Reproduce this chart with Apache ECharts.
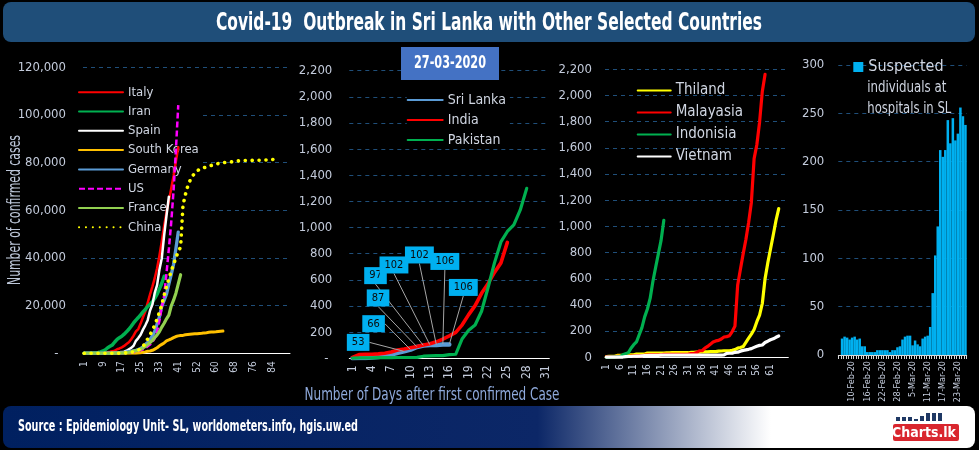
<!DOCTYPE html>
<html><head><meta charset="utf-8">
<script src="https://cdn.jsdelivr.net/npm/echarts@6/dist/echarts.min.js"></script>
<style>html,body{margin:0;padding:0;background:#000;}#c{width:979px;height:450px;}</style>
</head><body><div id="c"></div>
<script>
// ---------- DATA ----------
const days1 = [1,2,3,4,5,6,7,8,9,10,11,12,13,14,15,16,17,18,19,20,21,22,23,24,25,26,27,28,29,30,31,32,33,34,35,36,37,38,39,40,41,45,46,47,48,49,50,51,52,53,54,55,56,57,58,59,60,61,62,63,64,65,66,67,68,69,70,71,72,73,74,75,76,77,78,79,80,81,82,83,84,85,86,87,88,89,90,91];
const italy = [3,3,3,3,3,20,79,157,229,323,470,655,889,1128,1694,2036,2502,3089,3858,4636,5883,7375,9172,10149,12462,15113,17660,21157,24747,27980,31506,35713,41035,47021,53578,59138,63927,69176,74386,80589,86498];
const iran = [28,43,61,95,139,245,388,593,978,1501,2336,2922,3513,4747,5823,6566,7161,8042,9000,10075,11364,12729,13938,14991,16169,17361,18407,19644,20610,21638,23049,24811,27017,29406,32332];
const spain = [2,2,2,2,3,7,13,15,32,45,84,120,165,222,259,400,500,673,1073,1695,2277,3146,5232,6391,7798,9942,11748,13910,17963,20410,25374,28603,35136,39885,49515,57786,65719];
const southKorea = [4,4,4,11,12,15,15,16,19,23,24,24,25,27,28,28,28,28,28,29,30,31,51,104,204,433,602,833,977,1261,1766,2337,3150,3736,4335,5186,5621,6088,6593,7041,7314,7478,7513,7755,7869,7979,8086,8162,8236,8320,8413,8565,8652,8799,8897,8961,9037,9137,9241,9332];
const germany = [16,16,16,16,16,16,16,16,16,18,18,26,48,79,130,159,196,262,482,670,795,1040,1224,1565,1966,2745,3675,4585,5813,7272,9257,12327,15320,19848,22213,24873,29056,32986,37323,43938,50871];
const us = [15,15,15,15,15,15,35,35,53,53,57,60,60,68,75,100,124,158,221,319,435,541,704,994,1301,1697,2247,2943,3680,4663,6411,9197,13779,19367,24192,33592,43781,54856,68211,85435,104126];
const france = [12,12,12,12,12,12,12,12,12,12,14,18,38,57,100,130,191,212,285,423,653,949,1126,1412,1784,2281,2876,3661,4499,5423,6633,7730,9134,10995,12612,14459,16018,19856,22304,25233,29155,32964];
const china = [27,27,41,41,41,41,41,41,41,41,41,41,41,41,41,45,62,121,198,291,440,571,830,1287,1975,2744,4515,5974,7711,9692,11791,14380,17205,20438,24324,28018,31161,34546,37198,40171,42638,44653,62000,66500,70000,72500,74300,75500,76500,77200,77600,77900,78200,78500,78800,79100,79400,79600,79800,79950,80100,80200,80261,80380,80497,80667,80768,80814,80859,80879,80921,80932,80945,80977,81003,81033,81058,81102,81156,81250,81305,81435];

const days2 = [1,2,3,4,5,6,7,8,9,10,11,12,13,14,15,16,17,18,19,20,21,22,23,24,25,26,27,28,29,30,31];
const sriLanka = [1,2,3,6,10,18,28,42,53,66,87,97,102,102,106,106];
const india = [6,28,30,31,34,39,48,63,71,81,91,102,112,126,146,171,198,256,334,403,497,571,657,730,887];
const pakistan = [2,4,4,4,5,5,5,6,6,6,7,16,19,20,21,28,31,150,215,255,360,540,730,890,970,1020,1135,1300];
const slLabelIdx = [8,9,10,11,12,13,14,15];

const days3 = [1,2,3,4,5,6,7,8,9,10,11,12,13,14,15,16,17,18,19,20,21,22,23,24,25,26,27,28,29,30,31,32,33,34,35,36,37,38,39,40,41,42,43,44,45,46,47,48,49,50,51,52,53,54,55,56,57,58,59,60,61,62,63,64,65,66,67];
const thailand = [5,7,8,8,14,14,14,19,19,19,19,25,25,25,25,32,32,32,33,33,33,33,34,34,35,35,35,35,35,35,35,37,37,40,40,41,42,42,43,43,43,47,48,50,50,50,53,59,70,75,82,114,147,177,212,272,322,411,599,721,827,934,1045,1136];
const malaysia = [3,4,4,4,7,8,8,8,8,10,10,12,12,12,16,16,18,18,18,18,19,22,22,22,22,22,22,22,22,22,25,29,29,36,50,50,70,83,99,117,125,129,140,155,158,165,197,238,553,673,790,900,1030,1183,1518,1624,1796,2031,2161];
const indonesia = [0,0,2,2,4,6,19,27,34,69,96,117,172,227,309,369,450,579,686,790,893,1046];
const vietnam = [2,2,2,2,2,2,2,5,6,6,8,9,10,12,13,13,14,14,15,15,16,16,16,16,16,16,16,16,16,16,16,16,16,16,16,16,16,16,16,16,16,16,17,18,30,31,31,38,39,47,53,57,61,66,76,85,91,94,113,123,134,141,153,163];

const dates4 = ['5-Feb-20','6-Feb-20','7-Feb-20','8-Feb-20','9-Feb-20','10-Feb-20','11-Feb-20','12-Feb-20','13-Feb-20','14-Feb-20','15-Feb-20','16-Feb-20','17-Feb-20','18-Feb-20','19-Feb-20','20-Feb-20','21-Feb-20','22-Feb-20','23-Feb-20','24-Feb-20','25-Feb-20','26-Feb-20','27-Feb-20','28-Feb-20','29-Feb-20','1-Mar-20','2-Mar-20','3-Mar-20','4-Mar-20','5-Mar-20','6-Mar-20','7-Mar-20','8-Mar-20','9-Mar-20','10-Mar-20','11-Mar-20','12-Mar-20','13-Mar-20','14-Mar-20','15-Mar-20','16-Mar-20','17-Mar-20','18-Mar-20','19-Mar-20','20-Mar-20','21-Mar-20','22-Mar-20','23-Mar-20','24-Mar-20','25-Mar-20','26-Mar-20'];
const suspected = [null,17,19,18,16,18,19,16,17,9,9,3,3,3,3,5,5,5,5,5,3,5,5,8,9,16,19,20,20,10,15,11,9,17,19,20,29,64,103,133,212,205,212,243,219,245,222,229,256,247,238];

// ---------- STYLE ----------
const FONT = '"Liberation Sans Narrow","DejaVu Sans Condensed","Arial Narrow",sans-serif';
const LABEL = '#c3cbdb';
const GRIDC = '#1f4e79';
const mctx = document.createElement('canvas').getContext('2d');
function fit(text, font, w) { mctx.font = font; return w / mctx.measureText(text).width; }
const fmtComma = (pad) => (v) => v === 0 ? '-' + pad : v.toLocaleString('en-US');

function yAx(gi, max, interval, fmt, margin, fs) {
  return {gridIndex: gi, type: 'value', min: 0, max, interval,
    axisLine: {show: false}, axisTick: {show: false},
    splitLine: {show: true, lineStyle: {color: GRIDC, type: [4, 4], width: 1}},
    axisLabel: {color: LABEL, fontSize: fs, fontFamily: FONT, margin, formatter: fmt}};
}
function xAx(gi, data, interval, fs, margin, lineColor) {
  return {gridIndex: gi, type: 'category', data, boundaryGap: true,
    axisLine: {show: true, lineStyle: {color: lineColor || '#ffffff', width: 1}},
    axisTick: {show: false},
    axisLabel: {rotate: 90, interval, color: LABEL, fontSize: fs, fontFamily: FONT, margin},
    splitLine: {show: false}};
}
function ln(name, gi, data, color, width, type, extra) {
  return Object.assign({type: 'line', name, xAxisIndex: gi, yAxisIndex: gi, data, symbol: 'none',
    color, lineStyle: {color, width, type: type || 'solid', cap: 'round', join: 'round'}, animation: false}, extra || {});
}

const slDx = [-46, -37, -39, -48, -36, -17, 2, 14];
const slDy = [-9, -26, -49, -70, -80, -90, -83, -57];

const titleText = 'Covid-19  Outbreak in Sri Lanka with Other Selected Countries';
const titleFont = 'bold 25px ' + FONT;
const srcText = 'Source : Epidemiology Unit- SL, worldometers.info, hgis.uw.ed';
const srcFont = 'bold 15px ' + FONT;
const yTitle = 'Number of confirmed cases';
const yTitleFont = '17px ' + FONT;
const xTitle = 'Number of Days after first confirmed Case';
const xTitleFont = '17px ' + FONT;
const dateText = '27-03-2020';
const dateFont = 'bold 17px ' + FONT;
const legFont4 = '16px ' + FONT;
const leg4Line2 = 'individuals at';
const leg4Line3 = 'hospitals in SL';

const legendText = {color: '#d0d6e2', fontFamily: FONT};
const lineLegendCommon = {orient: 'vertical', selectedMode: false, z: 1, itemStyle: {opacity: 0}};

const option = {
  backgroundColor: '#000',
  animation: false,
  textStyle: {fontFamily: FONT},
  grid: [
    {left: 83, top: 67.3, width: 207, height: 286},
    {left: 349.3, top: 70.7, width: 200, height: 287.6},
    {left: 605, top: 69.3, width: 183.3, height: 288},
    {left: 838.3, top: 65, width: 128.4, height: 290}
  ],
  xAxis: [
    xAx(0, days1, 7, 10, 8),
    xAx(1, days2, 2, 12, 7),
    xAx(2, days3, function (i) { return i % 5 === 0 && i < 65; }, 10, 7),
    Object.assign(xAx(3, dates4, function (i) { return i % 6 === 5; }, 9, 6, '#d9d9d9'),
      {axisTick: {show: true, interval: 0, length: 4, lineStyle: {color: '#d9d9d9'}}})
  ],
  yAxis: [
    yAx(0, 120000, 20000, fmtComma('  '), 17, 13),
    yAx(1, 2200, 200, fmtComma(' '), 17, 13),
    yAx(2, 2200, 200, null, 13, 13),
    yAx(3, 300, 50, null, 14, 13)
  ],
  legend: [
    Object.assign({data: ['Italy', 'Iran', 'Spain', 'South Korea', 'Germany', 'US', 'France', 'China'],
      left: 78, top: 83.7, itemWidth: 44, itemHeight: 14, itemGap: 6.3, padding: [2, 4, 2, 0], backgroundColor: '#000',
      textStyle: Object.assign({fontSize: 13}, legendText)}, lineLegendCommon),
    Object.assign({data: ['Sri Lanka', 'India', 'Pakistan'],
      left: 406.7, top: 91, itemWidth: 35, itemHeight: 14, itemGap: 6, padding: [2, 4, 2, 0], backgroundColor: '#000',
      textStyle: Object.assign({fontSize: 14}, legendText)}, lineLegendCommon),
    Object.assign({data: ['Thiland', 'Malayasia', 'Indonisia', 'Vietnam'],
      left: 636.7, top: 83, itemWidth: 33, itemHeight: 14, itemGap: 7, padding: 0,
      textStyle: Object.assign({fontSize: 15}, legendText)}, lineLegendCommon),
    {data: ['Suspected individuals at hospitals in SL'], orient: 'vertical', icon: 'rect',
      left: 853.3, top: 59, itemWidth: 10, itemHeight: 10, padding: 0,
      formatter: function () { return 'Suspected'; },
      textStyle: Object.assign({fontSize: 16}, legendText), selectedMode: false}
  ],
  series: [
    ln('Italy', 0, italy, '#ff0000', 2.5),
    ln('Iran', 0, iran, '#00b050', 3.5),
    ln('Spain', 0, spain, '#ffffff', 2.5),
    ln('South Korea', 0, southKorea, '#ffc000', 3),
    ln('Germany', 0, germany, '#5b9bd5', 3.3),
    ln('US', 0, us, '#ff00ff', 2.5, [6, 3], {lineStyle: {color: '#ff00ff', width: 2.5, type: [6, 3], cap: 'butt'}}),
    ln('France', 0, france, '#92d050', 3.2),
    ln('China', 0, china, '#ffff00', 3.6, [0.1, 6.8]),

    ln('Sri Lanka', 1, sriLanka, '#5b9bd5', 4.5),
    ln('India', 1, india, '#ff0000', 3.6),
    ln('Pakistan', 1, pakistan, '#00b050', 3.2),
    {type: 'scatter', name: 'slLabels', xAxisIndex: 1, yAxisIndex: 1, animation: false, z: 5,
      data: slLabelIdx.map(function (i) { return [i, sriLanka[i]]; }),
      symbol: 'circle', symbolSize: 1, itemStyle: {color: 'rgba(0,0,0,0)', opacity: 1},
      label: {show: true, position: 'inside', formatter: function (p) { return String(p.value[1]); },
        backgroundColor: '#00b0f0', color: '#0a0a0a', fontSize: 11, fontFamily: FONT, padding: [3, 5, 3, 5]},
      labelLine: {show: true, lineStyle: {color: '#a6a6a6', width: 1}},
      labelLayout: function (p) { return {dx: slDx[p.dataIndex], dy: slDy[p.dataIndex]}; }},

    ln('Thiland', 2, thailand, '#ffff00', 3.2),
    ln('Malayasia', 2, malaysia, '#ff0000', 3.2),
    ln('Indonisia', 2, indonesia, '#00b050', 3.2),
    ln('Vietnam', 2, vietnam, '#ffffff', 3.2),

    {type: 'bar', name: 'Suspected individuals at hospitals in SL', xAxisIndex: 3, yAxisIndex: 3,
      data: suspected, color: '#00b0f0', itemStyle: {color: '#00b0f0'}, barCategoryGap: '0%', animation: false}
  ],
  graphic: [
    {type: 'rect', z: 10, shape: {x: 3, y: 2, width: 972, height: 40, r: 8}, style: {fill: '#1f4e79'}},
    {type: 'text', z: 11, x: 489, y: 23, scaleX: fit(titleText, titleFont, 546),
      style: {text: titleText, font: titleFont, fill: '#ffffff', align: 'center', verticalAlign: 'middle'}},
    {type: 'rect', z: 10, shape: {x: 401, y: 47, width: 98, height: 33}, style: {fill: '#4472c4'}},
    {type: 'text', z: 11, x: 450, y: 64, scaleX: fit(dateText, dateFont, 72),
      style: {text: dateText, font: dateFont, fill: '#ffffff', align: 'center', verticalAlign: 'middle'}},
    {type: 'text', z: 11, x: 16, y: 210, rotation: Math.PI / 2, scaleX: fit(yTitle, yTitleFont, 150),
      style: {text: yTitle, font: yTitleFont, fill: '#bdc7d9', align: 'center', verticalAlign: 'middle'}},
    {type: 'text', z: 11, x: 432, y: 396, scaleX: fit(xTitle, xTitleFont, 255),
      style: {text: xTitle, font: xTitleFont, fill: '#8ea9db', align: 'center', verticalAlign: 'middle'}},
    {type: 'text', z: 11, x: 867.3, y: 88.3, scaleX: fit(leg4Line2, legFont4, 79),
      style: {text: leg4Line2, font: legFont4, fill: '#d0d6e2', align: 'left', verticalAlign: 'middle'}},
    {type: 'text', z: 11, x: 867.3, y: 108.6, scaleX: fit(leg4Line3, legFont4, 84),
      style: {text: leg4Line3, font: legFont4, fill: '#d0d6e2', align: 'left', verticalAlign: 'middle'}},
    {type: 'rect', z: 10, shape: {x: 3, y: 406, width: 972, height: 42, r: 8},
      style: {fill: {type: 'linear', x: 0, y: 0, x2: 1, y2: 0, colorStops: [
        {offset: 0, color: '#002060'}, {offset: 0.55, color: '#0c2767'}, {offset: 0.79, color: '#ffffff'}, {offset: 1, color: '#ffffff'}]}}},
    {type: 'text', z: 11, x: 18, y: 427, scaleX: fit(srcText, srcFont, 340),
      style: {text: srcText, font: srcFont, fill: '#ffffff', align: 'left', verticalAlign: 'middle'}},
    // logo
    {type: 'rect', z: 11, shape: {x: 893, y: 424, width: 66, height: 17, r: 2}, style: {fill: '#d9262e'}},
    {type: 'text', z: 12, x: 924, y: 433, style: {text: 'Charts.lk', font: 'bold 14px ' + FONT, fill: '#ffffff', align: 'center', verticalAlign: 'middle'}},
    {type: 'rect', z: 11, shape: {x: 896, y: 417, width: 4, height: 4}, style: {fill: '#1f3864'}},
    {type: 'rect', z: 11, shape: {x: 902, y: 417, width: 4, height: 4}, style: {fill: '#1f3864'}},
    {type: 'rect', z: 11, shape: {x: 908, y: 417, width: 4, height: 4}, style: {fill: '#1f3864'}},
    {type: 'rect', z: 11, shape: {x: 914, y: 419, width: 4, height: 2}, style: {fill: '#1f3864'}},
    {type: 'rect', z: 11, shape: {x: 920, y: 416, width: 4, height: 5}, style: {fill: '#1f3864'}},
    {type: 'rect', z: 11, shape: {x: 926, y: 413, width: 4, height: 8}, style: {fill: '#1f3864'}},
    {type: 'rect', z: 11, shape: {x: 932, y: 413, width: 4, height: 8}, style: {fill: '#1f3864'}},
    {type: 'rect', z: 11, shape: {x: 938, y: 413, width: 4, height: 8}, style: {fill: '#1f3864'}}
  ]
};

const chart = echarts.init(document.getElementById('c'), null, {renderer: 'canvas'});
chart.setOption(option);
</script>
</body></html>
